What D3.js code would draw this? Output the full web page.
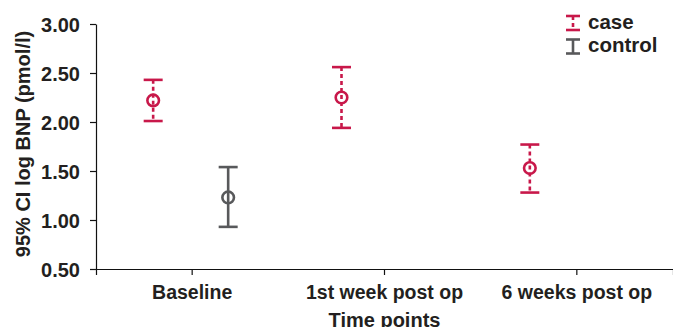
<!DOCTYPE html>
<html><head><meta charset="utf-8">
<script src="https://cdn.jsdelivr.net/npm/d3@7"></script>
<style>body{margin:0;background:#fff}svg{display:block}</style>
</head><body><div id="chart"></div>
<script>
// ---- data ----
const categories = ["Baseline", "1st week post op", "6 weeks post op"];
const groups = ["case", "control"];
const caseMean  = [2.22, 2.25, 1.53];
const caseLower = [2.01, 1.94, 1.28];
const caseUpper = [2.43, 2.56, 1.77];
const controlMean  = [1.23, null, null];
const controlLower = [0.93, null, null];
const controlUpper = [1.54, null, null];
const yTicks = [0.5, 1.0, 1.5, 2.0, 2.5, 3.0];

// ---- layout ----
const W = 673, H = 327;
const margin = {left: 96, right: 0, top: 24, bottom: 58};
const colors = {case: "#c8184a", control: "#58595b"};
// horizontal offsets of each group's bar within its category (px), as in the reference
const offsets = {case: [-39, -43, -47], control: [36, 0, 0]};
const font = "'Liberation Sans', Arial, sans-serif";
const ink = "#231f20";

const svg = d3.select("#chart").append("svg").attr("width", W).attr("height", H);

const x = d3.scaleBand().domain(categories).range([margin.left, W - margin.right]).padding(0);
const y = d3.scaleLinear().domain([0.5, 3.0]).range([H - margin.bottom, margin.top]);

// axes
const xAxis = svg.append("g").attr("transform", `translate(0,${H - margin.bottom})`)
  .call(d3.axisBottom(x).tickSize(6).tickSizeOuter(6));
const yAxis = svg.append("g").attr("transform", `translate(${margin.left},0)`)
  .call(d3.axisLeft(y).tickValues(yTicks).tickFormat(d3.format(".2f")).tickSize(6).tickSizeOuter(0));
[xAxis, yAxis].forEach(g => {
  g.selectAll("path,line").attr("stroke", "#111").attr("stroke-width", 1.2);
  g.selectAll("text").attr("font-family", font).attr("font-weight", "bold").attr("fill", ink);
});
xAxis.selectAll("text").attr("font-size", "19.5px").attr("y", 29.5).attr("dy", 0);
yAxis.selectAll("text").attr("font-size", "20px").attr("x", -16).attr("dy", "0.36em");

// axis titles
svg.append("text").attr("x", (margin.left + W - margin.right) / 2).attr("y", 326.5)
  .attr("text-anchor", "middle").attr("font-family", font).attr("font-weight", "bold")
  .attr("font-size", "20px").attr("fill", ink).text("Time points");
svg.append("text").attr("transform", "translate(30,144) rotate(-90)")
  .attr("text-anchor", "middle").attr("font-family", font).attr("font-weight", "bold")
  .attr("font-size", "20px").attr("fill", ink).text("95% CI log BNP (pmol/l)");

// error bars
const series = {
  case: {mean: caseMean, lo: caseLower, hi: caseUpper, dash: "4,3"},
  control: {mean: controlMean, lo: controlLower, hi: controlUpper, dash: null}
};
const capW = 19, sw = 2.6, r = 5.8;
groups.forEach(gName => {
  const s = series[gName];
  const col = colors[gName];
  const g = svg.append("g");
  categories.forEach((c, i) => {
    if (s.mean[i] == null) return;
    const cx = x(c) + x.bandwidth() / 2 + offsets[gName][i];
    g.append("line").attr("x1", cx - capW / 2).attr("x2", cx + capW / 2)
      .attr("y1", y(s.hi[i])).attr("y2", y(s.hi[i])).attr("stroke", col).attr("stroke-width", sw);
    g.append("line").attr("x1", cx - capW / 2).attr("x2", cx + capW / 2)
      .attr("y1", y(s.lo[i])).attr("y2", y(s.lo[i])).attr("stroke", col).attr("stroke-width", sw);
    g.append("circle").attr("cx", cx).attr("cy", y(s.mean[i])).attr("r", r)
      .attr("fill", "none").attr("stroke", col).attr("stroke-width", sw);
    g.append("line").attr("x1", cx).attr("x2", cx)
      .attr("y1", y(s.hi[i])).attr("y2", y(s.lo[i])).attr("stroke", col).attr("stroke-width", sw)
      .attr("stroke-dasharray", s.dash);
  });
});

// legend
const leg = svg.append("g");
groups.forEach((gName, i) => {
  const col = colors[gName];
  const cy = 23 + i * 23.5;
  const lx = 573;
  leg.append("line").attr("x1", lx - 7).attr("x2", lx + 7).attr("y1", cy - 7).attr("y2", cy - 7)
    .attr("stroke", col).attr("stroke-width", sw);
  leg.append("line").attr("x1", lx - 7).attr("x2", lx + 7).attr("y1", cy + 7).attr("y2", cy + 7)
    .attr("stroke", col).attr("stroke-width", sw);
  leg.append("line").attr("x1", lx).attr("x2", lx).attr("y1", cy - 7).attr("y2", cy + 7)
    .attr("stroke", col).attr("stroke-width", sw).attr("stroke-dasharray", series[gName].dash);
  leg.append("text").attr("x", 588).attr("y", cy + 5.5)
    .attr("font-family", font).attr("font-weight", "bold").attr("font-size", "20.5px")
    .attr("fill", ink).text(gName);
});
</script></body></html>
